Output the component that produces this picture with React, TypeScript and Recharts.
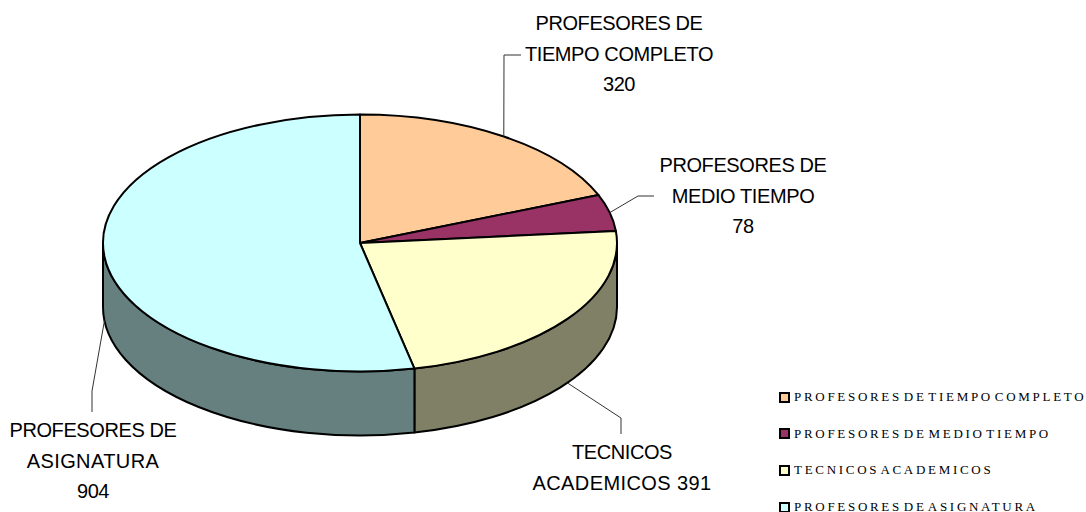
import { Legend, Pie, PieChart } from "recharts";

const CATEGORIES = [
  "PROFESORES DE TIEMPO COMPLETO",
  "PROFESORES DE MEDIO TIEMPO",
  "TECNICOS ACADEMICOS",
  "PROFESORES DE ASIGNATURA",
];
const VALUES = [320, 78, 391, 904];
const TOP_COLORS = ["#FFCC99", "#993366", "#FFFFCC", "#CCFFFF"];
const WALL_COLORS = ["#806650", "#4C1933", "#808066", "#668080"];
const LABEL_LINES = [
  ["PROFESORES DE", "TIEMPO COMPLETO", "320"],
  ["PROFESORES DE", "MEDIO TIEMPO", "78"],
  ["TECNICOS", "ACADEMICOS 391"],
  ["PROFESORES DE", "ASIGNATURA", "904"],
];

const data = CATEGORIES.map((name, i) => ({ name, value: VALUES[i] }));

const WIDTH = 1086;
const HEIGHT = 512;
const CX = 360;
const CY = 243;
const RADIUS = 257;
const TILT = 0.5;
const DEPTH = 64;

// leader elbows and text placement for each slice label
const LEADERS = [
  { elbow: [[504, 55], [521, 55]], x: 619, y: 30 },
  { elbow: [[638, 196], [654, 196]], x: 743, y: 172 },
  { elbow: [[621, 418], [621, 434]], x: 622, y: 459 },
  { elbow: [[92, 391], [92, 412]], x: 93, y: 437 },
];

const rim = (cx: number, cy: number, r: number, angle: number) => {
  const rad = (angle * Math.PI) / 180;
  return [cx + r * Math.cos(rad), cy - r * TILT * Math.sin(rad)];
};

function TopSlice(props: any) {
  const { cx, cy, outerRadius: r, startAngle, endAngle, fill } = props;
  const [x0, y0] = rim(cx, cy, r, startAngle);
  const [x1, y1] = rim(cx, cy, r, endAngle);
  const large = Math.abs(startAngle - endAngle) > 180 ? 1 : 0;
  return (
    <path
      d={`M${cx},${cy}L${x0},${y0}A${r},${r * TILT} 0 ${large} 1 ${x1},${y1}Z`}
      fill={fill}
      stroke="#000"
      strokeWidth={2}
      strokeLinejoin="round"
    />
  );
}

function WallSlice(props: any) {
  const { cx, cy, outerRadius: r, fill } = props;
  // only the front half of the rim shows
  const start = Math.min(props.startAngle, 0);
  const end = Math.max(props.endAngle, -180);
  if (start <= end) return null;
  const [x0, y0] = rim(cx, cy, r, start);
  const [x1, y1] = rim(cx, cy, r, end);
  return (
    <path
      d={`M${x0},${y0}A${r},${r * TILT} 0 0 1 ${x1},${y1}L${x1},${y1 + DEPTH}A${r},${r * TILT} 0 0 0 ${x0},${y0 + DEPTH}Z`}
      fill={fill}
      stroke="#000"
      strokeWidth={2}
      strokeLinejoin="round"
    />
  );
}

function SliceLabel(props: any) {
  const { cx, cy, outerRadius: r, midAngle, index } = props;
  const leader = LEADERS[index];
  const [ax, ay] = rim(cx, cy, r, midAngle);
  const anchorY = midAngle < 0 ? ay + DEPTH : ay;
  const points = [[ax, anchorY], ...leader.elbow].map((p) => p.join(",")).join(" ");
  return (
    <g>
      <polyline points={points} fill="none" stroke="#333" strokeWidth={1} />
      <text textAnchor="middle" fontFamily="Liberation Sans" fontSize={20} fill="#000">
        {LABEL_LINES[index].map((line, i) => (
          <tspan
            key={line}
            x={leader.x}
            y={leader.y + i * 30.5}
            // the lines starting with A are set wider in the original
            letterSpacing={line.startsWith("A") ? 0.4 : -0.4}
          >
            {line}
          </tspan>
        ))}
      </text>
    </g>
  );
}

function LegendRows() {
  return (
    <div>
      {CATEGORIES.map((name, i) => (
        <div
          key={name}
          style={{
            display: "flex",
            alignItems: "center",
            height: 36.6,
            fontFamily: "Liberation Serif",
            fontSize: 13,
            letterSpacing: 2.7,
            wordSpacing: -4,
            whiteSpace: "nowrap",
            color: "#000",
          }}
        >
          <span
            style={{
              width: 7,
              height: 7,
              flexShrink: 0,
              marginRight: 4,
              background: TOP_COLORS[i],
              border: "2px solid #000",
            }}
          />
          {name}
        </div>
      ))}
    </div>
  );
}

export default function App() {
  return (
    <div style={{ position: "absolute", left: 0, top: 0, width: WIDTH, height: HEIGHT, background: "#fff" }}>
      <PieChart width={WIDTH} height={HEIGHT} margin={{ top: 0, right: 0, bottom: 0, left: 0 }}>
        <Pie
          data={data.map((d, i) => ({ ...d, fill: WALL_COLORS[i] }))}
          dataKey="value"
          cx={CX}
          cy={CY}
          innerRadius={0}
          outerRadius={RADIUS}
          startAngle={90}
          endAngle={-270}
          shape={WallSlice}
          stroke="none"
          isAnimationActive={false}
        />
        <Pie
          data={data.map((d, i) => ({ ...d, fill: TOP_COLORS[i] }))}
          dataKey="value"
          cx={CX}
          cy={CY}
          innerRadius={0}
          outerRadius={RADIUS}
          startAngle={90}
          endAngle={-270}
          shape={TopSlice}
          label={SliceLabel}
          labelLine={false}
          stroke="none"
          isAnimationActive={false}
        />
        <Legend
          content={<LegendRows />}
          wrapperStyle={{ position: "absolute", left: 779, top: 379, width: 307, bottom: "auto" }}
        />
      </PieChart>
    </div>
  );
}
